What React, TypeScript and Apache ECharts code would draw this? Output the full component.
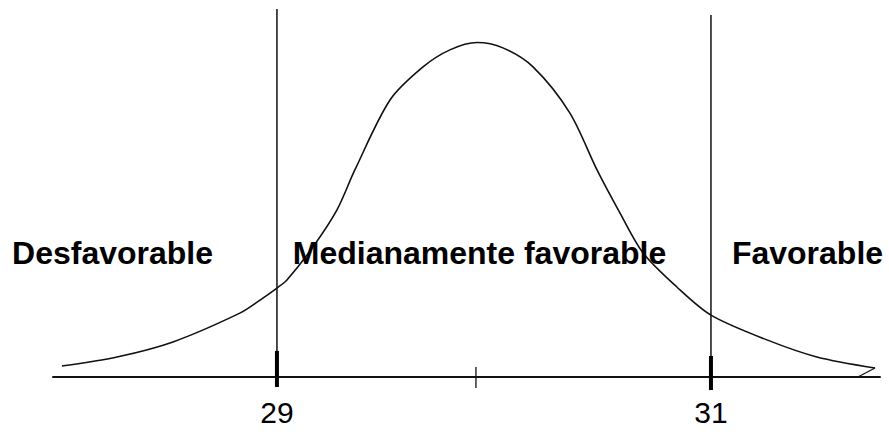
import React, { useEffect, useRef } from "react";
import * as echarts from "echarts";

// Bell curve (x in score units, y relative to peak)
const curveX = [28.009, 28.263, 28.521, 28.829, 28.922, 29.0, 29.046, 29.166, 29.276, 29.359, 29.521, 29.673, 29.797, 29.922, 30.041, 30.18, 30.35, 30.475, 30.581, 30.687, 30.843, 31.0, 31.258, 31.488, 31.756];
const curveY = [0.033, 0.06, 0.105, 0.191, 0.23, 0.266, 0.29, 0.389, 0.499, 0.619, 0.828, 0.927, 0.978, 1.0, 0.984, 0.927, 0.789, 0.619, 0.49, 0.371, 0.269, 0.185, 0.111, 0.06, 0.027];

// Small hook at the end of the right tail
const hookX = [31.756, 31.677];
const hookY = [0.027, 0.0];

// Cut points
const cutValues = [29, 31];
const cutLineTops = [1.1, 1.082];
const cutTickTops = [0.078, 0.063];
const cutTickBottoms = [-0.03, -0.039];
const tickLabels = ["29", "31"];

// Center tick
const centerTick = 29.917;
const centerTickRange = [-0.033, 0.03];

// Zone labels
const zoneLabels = ["Desfavorable", "Medianamente favorable", "Favorable"];

// Axis extent
const xMin = 27.968;
const xMax = 31.779;
const yMin = 0;
const yMax = 1.1002;

export default function App() {
  const ref = useRef<HTMLDivElement>(null);
  useEffect(() => {
    if (!ref.current) return;
    const chart = echarts.init(ref.current, undefined, { renderer: "svg" });
    const ink = "#111";
    const series: any[] = [
      {
        type: "line",
        data: curveX.map((x, i) => [x, curveY[i]]),
        smooth: 0.3,
        symbol: "none",
        lineStyle: { color: ink, width: 1.6 },
      },
      {
        type: "line",
        data: hookX.map((x, i) => [x, hookY[i]]),
        symbol: "none",
        lineStyle: { color: ink, width: 1.2 },
      },
    ];
    cutValues.forEach((v, i) => {
      series.push({
        type: "line",
        clip: false,
        data: [
          [v, cutTickBottoms[i]],
          [v, cutLineTops[i]],
        ],
        symbol: "none",
        lineStyle: { color: ink, width: 1.5 },
      });
      series.push({
        type: "line",
        clip: false,
        data: [
          [v, cutTickBottoms[i]],
          [v, cutTickTops[i]],
        ],
        symbol: "none",
        lineStyle: { color: "#000", width: 4, cap: "butt" },
      });
    });
    series.push({
      type: "line",
      clip: false,
      data: [
        [centerTick, centerTickRange[0]],
        [centerTick, centerTickRange[1]],
      ],
      symbol: "none",
      lineStyle: { color: ink, width: 1.3 },
    });

    const labelFont = 'bold 32px "Liberation Sans", Arial, sans-serif';
    const zoneCenters = [112.5, 479.5, 807.5];

    chart.setOption({
      animation: false,
      backgroundColor: "#ffffff",
      grid: { left: 53, right: 9, top: 9, bottom: 59, containLabel: false, outerBoundsMode: "none" },
      xAxis: {
        type: "value",
        min: xMin,
        max: xMax,
        axisLine: { show: true, onZero: false, lineStyle: { color: ink, width: 2 } },
        axisTick: { show: false },
        splitLine: { show: false },
        axisLabel: {
          show: true,
          customValues: cutValues,
          formatter: (v: number) => tickLabels[cutValues.indexOf(Math.round(v))] ?? String(v),
          margin: 20,
          color: "#000",
          fontSize: 30,
          fontFamily: '"Liberation Sans", Arial, sans-serif',
        },
      },
      yAxis: {
        type: "value",
        min: yMin,
        max: yMax,
        show: false,
        splitLine: { show: false },
      },
      series,
      graphic: zoneLabels.map((t, i) => ({
        type: "text",
        x: zoneCenters[i],
        y: 253,
        style: {
          text: t,
          font: labelFont,
          fill: "#000",
          textAlign: "center",
          textVerticalAlign: "middle",
        },
        z: 10,
      })),
    });
    return () => chart.dispose();
  }, []);
  return (
    <div
      ref={ref}
      style={{ position: "fixed", left: 0, top: 0, width: 889, height: 436, background: "#fff" }}
    />
  );
}
